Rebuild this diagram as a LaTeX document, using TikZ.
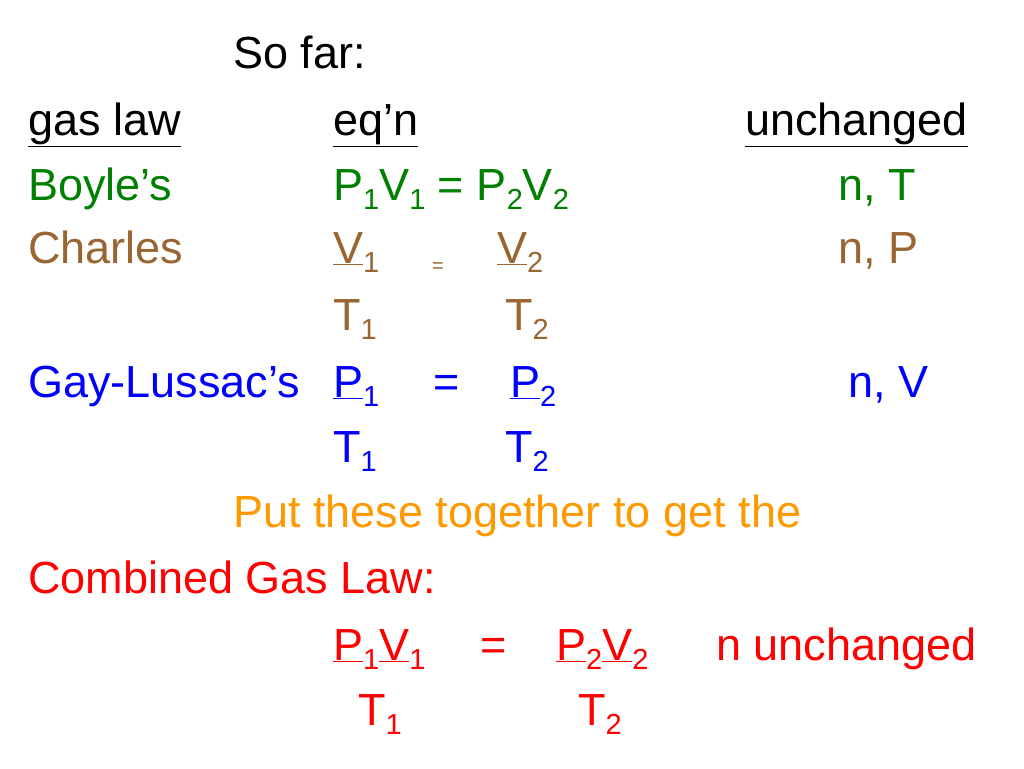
\documentclass[tikz,border=0pt]{standalone}
\usepackage{fontspec}
\setmainfont{Liberation Sans}
\definecolor{boyle}{RGB}{0,128,0}
\definecolor{charles}{RGB}{153,102,51}
\definecolor{gay}{RGB}{0,0,255}
\definecolor{put}{RGB}{255,153,0}
\definecolor{comb}{RGB}{255,0,0}
\newcommand{\lo}[1]{\raisebox{-0.22em}{\fontsize{29}{31}\selectfont #1}}
\begin{document}
\begin{tikzpicture}[x=1pt,y=-1pt,
    txt/.style={anchor=base west,inner sep=0pt,font=\fontsize{45}{52}\selectfont}]
    \useasboundingbox[fill=white] (0,0) rectangle (1024,768);
    \node[txt] (sofar) at (233,68) {So far:};
    \node[txt] (h_law) at (28,135) {\underline{gas law}};
    \node[txt] (h_eqn) at (333,135) {\underline{eq’n}};
    \node[txt] (h_unc) at (745,135) {\underline{unchanged}};
    % Boyle
    \node[txt,boyle] (b_name) at (28,200) {Boyle’s};
    \node[txt,boyle] (b_eqn) at (333,200) {P\lo{1}V\lo{1} = P\lo{2}V\lo{2}};
    \node[txt,boyle] (b_unc) at (838,200) {n, T};
    % Charles
    \node[txt,charles] (c_name) at (28,263) {Charles};
    \node[txt,charles] (c_v1) at (333,263) {\underline{V}\lo{1}};
    \node[txt,charles,font=\fontsize{20}{22}\selectfont] (c_eq) at (432,272) {=};
    \node[txt,charles] (c_v2) at (497,263) {\underline{V}\lo{2}};
    \node[txt,charles] (c_unc) at (838,263) {n, P};
    \node[txt,charles] (c_t1) at (333,330) {T\lo{1}};
    \node[txt,charles] (c_t2) at (505,330) {T\lo{2}};
    % Gay-Lussac
    \node[txt,gay] (g_name) at (28,397) {Gay-Lussac’s};
    \node[txt,gay] (g_p1) at (333,397) {\underline{P}\lo{1}};
    \node[txt,gay] (g_eq) at (433,397) {=};
    \node[txt,gay] (g_p2) at (510,397) {\underline{P}\lo{2}};
    \node[txt,gay] (g_unc) at (848,397) {n, V};
    \node[txt,gay] (g_t1) at (333,462) {T\lo{1}};
    \node[txt,gay] (g_t2) at (505,462) {T\lo{2}};
    % combined
    \node[txt,put] (put) at (233,527) {Put these together to get the};
    \node[txt,comb] (k_name) at (28,593) {Combined Gas Law:};
    \node[txt,comb] (k_num1) at (333,660) {\underline{P}\lo{1}\underline{V}\lo{1}};
    \node[txt,comb] (k_eq) at (480,660) {=};
    \node[txt,comb] (k_num2) at (556,660) {\underline{P}\lo{2}\underline{V}\lo{2}};
    \node[txt,comb] (k_unc) at (716,660) {n unchanged};
    \node[txt,comb] (k_t1) at (358,725) {T\lo{1}};
    \node[txt,comb] (k_t2) at (578,725) {T\lo{2}};
\end{tikzpicture}
\end{document}
